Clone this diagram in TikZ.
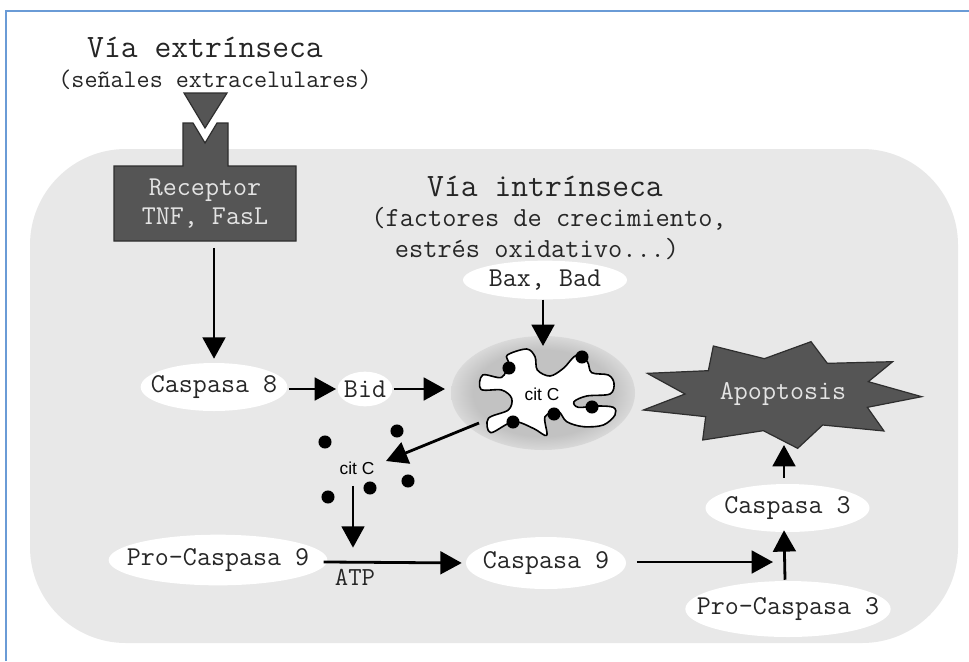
\documentclass[tikz,border=0pt]{standalone}
\usepackage{fontspec}
\newfontfamily\labelsans{Liberation Sans}
\usetikzlibrary{arrows.meta,shapes.geometric,calc}
\definecolor{panelgrey}{HTML}{E8E8E8}
\definecolor{darkfill}{HTML}{555555}
\definecolor{edgegrey}{HTML}{2E2E2E}
\definecolor{glowgrey}{HTML}{C2C2C2}
\definecolor{framebl}{HTML}{6A9BD6}
\definecolor{pale}{HTML}{E4E4E4}
% soft-edged halo around the mitochondrion
\pgfdeclareradialshading{mitoglow}{\pgfpoint{0bp}{0bp}}{color(0bp)=(glowgrey);color(19bp)=(glowgrey);color(29bp)=(panelgrey);color(50bp)=(panelgrey)}
% oval labels take no part in sizing their ellipse
\newcommand{\ovaltext}[1]{\makebox[0pt]{#1}}
\tikzset{
  x=0.75pt,y=-0.75pt,
  mono/.style={font=\ttfamily\fontsize{20.4}{22}\selectfont,text=black!85},
  heading/.style={font=\ttfamily\fontsize{24.5}{26}\selectfont,text=black!85},
  subhead/.style={font=\ttfamily\fontsize{19}{21}\selectfont,text=black!85},
  subheadwide/.style={font=\ttfamily\fontsize{20.7}{22}\selectfont,text=black!85},
  oval/.style={ellipse,fill=white,inner sep=0pt,mono},
  flow/.style={line width=2.1pt,draw=black,-{Triangle[length=16pt,width=17pt]}},
  dot/.style={circle,fill=black,inner sep=0pt,minimum size=9.8pt},
  darkshape/.style={fill=darkfill,draw=edgegrey,line width=0.9pt,line join=miter},
  sanslabel/.style={font=\labelsans\fontsize{13}{15}\selectfont,text=black},
}
\begin{document}
\begin{tikzpicture}
\useasboundingbox (0,0) rectangle (969,661);
\fill[white] (0,0) rectangle (969,661);
% page frame: left and top edges only
\draw[framebl,line width=1.5pt] (6,661) -- (6,10.5) -- (969,10.5);
% cell body
\fill[panelgrey,rounded corners=72pt] (30,149) rectangle (958,643);

% titles
\node[heading] (ext) at (205,47) {Vía extrínseca};
\node[subhead] (extsub) at (215,80) {(señales extracelulares)};
\node[heading] (int) at (545,186) {Vía intrínseca};
\node[subheadwide] (intsub1) at (549,219) {(factores de crecimiento,};
\node[subheadwide] (intsub2) at (537,249) {estrés oxidativo...)};

% ligand and receptor
\fill[darkshape] (184,93) -- (227,93) -- (205,128) -- cycle;
\fill[darkshape] (114,166) -- (183,166) -- (183,123) -- (193,123) -- (205,143) -- (217,123)
  -- (228,123) -- (228,166) -- (296,166) -- (296,241) -- (114,241) -- cycle;
\node[mono,text=pale,align=center,minimum width=136.5pt,minimum height=56pt,inner sep=0pt] (rec) at (205,203.5)
  {\fontsize{20.4}{30}\selectfont Receptor\\TNF, FasL};

% protein ovals
\node[oval,minimum width=123pt,minimum height=29pt] (bax) at (545,280) {\ovaltext{Bax, Bad}};
\node[oval,minimum width=110pt,minimum height=36pt] (c8) at (214,387) {\ovaltext{Caspasa 8}};
\node[oval,minimum width=41pt,minimum height=26pt] (bid) at (365,389) {\ovaltext{Bid}};
\node[oval,minimum width=123pt,minimum height=36pt] (c3) at (787.5,508) {\ovaltext{Caspasa 3}};
\node[oval,minimum width=164pt,minimum height=38pt] (pc9) at (218,560) {\ovaltext{Pro-Caspasa 9}};
\node[oval,minimum width=120pt,minimum height=39pt] (c9) at (546,563) {\ovaltext{Caspasa 9}};
\node[oval,minimum width=154pt,minimum height=42pt] (pc3) at (788,609) {\ovaltext{Pro-Caspasa 3}};

% mitochondrion: halo, folded membrane, cytochrome c on it
\shade[shading=mitoglow] (543,393) ellipse [x radius=92,y radius=57];
\begin{scope}[shift={(430,320)},x=0.25pt,y=-0.25pt]
  \draw[fill=white,draw=black,line width=1.2pt,line join=round] plot[smooth cycle,tension=0.55] coordinates {
    (232,105) (290,87) (315,110) (322,150) (360,168) (400,145) (440,105) (472,125) (485,158)
    (535,165) (552,190) (540,222) (470,228) (432,245) (445,262) (500,258) (550,262) (555,285)
    (520,315) (460,320) (410,305) (385,275) (345,290) (350,346) (310,325) (250,305) (182,338)
    (175,295) (235,270) (245,235) (215,210) (153,208) (158,165) (215,172) (235,130)};
\end{scope}
\node[sanslabel] (citin) at (542,394) {cit C};
\node[dot] (m1) at (509,368) {};
\node[dot] (m2) at (582,357) {};
\node[dot] (m3) at (592,407) {};
\node[dot] (m4) at (554,414) {};
\node[dot] (m5) at (513,422) {};

% released cytochrome c
\node[sanslabel] (citc) at (357,468) {cit C};
\node[dot] (d1) at (325,442) {};
\node[dot] (d2) at (397,431) {};
\node[dot] (d3) at (408,481) {};
\node[dot] (d4) at (370,488) {};
\node[dot] (d5) at (328,497) {};
\node[mono,font=\ttfamily\fontsize{19.5}{22}\selectfont] (atp) at (355,577) {ATP};

% apoptosis burst
\begin{scope}[shift={(430,320)},x=0.25pt,y=-0.25pt]
  \fill[darkshape] (652,160) -- (835,152) -- (850,78) -- (1003,116) -- (1143,65) -- (1192,130)
    -- (1388,125) -- (1315,185) -- (1475,230) -- (1312,262) -- (1362,333) -- (1178,315)
    -- (1103,385) -- (1000,332) -- (818,360) -- (827,290) -- (640,270) -- (765,222) -- cycle;
\end{scope}
\node[mono,text=pale,minimum width=130pt,minimum height=50pt,inner sep=0pt] (apo) at (783,394) {Apoptosis};

% connector end points that lie on no node outline
\coordinate (mitotop) at (543,346);
\coordinate (mitoleft) at (445,389);
\coordinate (mitoout) at (479,423);
\coordinate (citinto) at (386,461);
\coordinate (atpbar) at (353,561);
\coordinate (c3join) at (773,562);
\coordinate (apotip) at (784,445);

% pathway arrows
\draw[flow,shorten <=5pt,shorten >=3pt] (c8.north |- rec.south) -- (c8.north);
\draw[flow,shorten <=1pt,shorten >=1pt] (c8.east |- bid.west) -- (bid.west);
\draw[flow,shorten <=1pt] (bid.east) -- (mitoleft);
\draw[flow] (bax.south -| mitotop) -- (mitotop);
\draw[flow] (mitoout) -- (citinto);
\draw[flow,shorten <=5pt,shorten >=10pt] (citc.south -| atpbar) -- (atpbar);
\draw[flow,shorten <=-3pt,shorten >=3pt] (pc9.east |- c9.west) ++(0,-1) -- (c9.west);
\draw[flow,shorten <=8pt] (c9.east) ++(0,-1) -- (c3join);
\draw[flow] (pc3.north) ++(-3,-1) -- ($(c3.south)+(-3.5,-2)$);
\draw[flow] ($(c3.north)+(-3.5,-6)$) -- (apotip);
\end{tikzpicture}
\end{document}
